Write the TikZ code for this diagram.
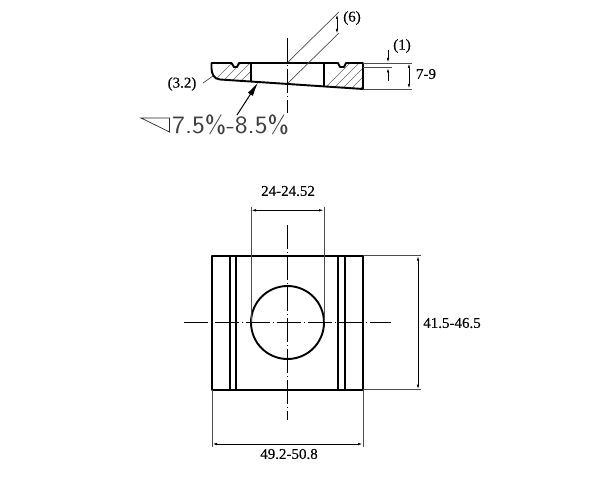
\documentclass[tikz,border=0pt]{standalone}
\usepackage{fontspec}
\setmainfont[FakeBold=0.15]{Liberation Serif}
\usetikzlibrary{arrows.meta}
\tikzset{
  x=1pt,y=-1pt,
  outline/.style={line width=1.9pt,black,line join=round},
  thin line/.style={line width=0.7pt,black!70},
  centerline/.style={line width=0.8pt,black,dash pattern=on 24pt off 3pt on 1pt off 3pt},
  hatch/.style={line width=0.5pt,black!60},
  dimline/.style={line width=0.9pt,black,{Latex[length=5pt,width=2.5pt]}-{Latex[length=5pt,width=2.5pt]}},
  dimtext/.style={font=\fontsize{15}{15}\selectfont,inner sep=0pt},
}
\begin{document}
\begin{tikzpicture}
\useasboundingbox (0,0) rectangle (604,481);
\fill[white] (0,0) rectangle (604,481);

% --- section view: hatching
\begin{scope}
  \clip (211,63) -- (231.5,63) -- (234,67) -- (237,67) -- (239,63) -- (251,63) -- (251,81) -- (218,79) to[out=200,in=90] (211,68) -- cycle;
  \foreach \k in {0,...,8} \draw[hatch] (205+9*\k,90) -- (205+9*\k+35,55);
\end{scope}
\begin{scope}
  \clip (324,63) -- (338,63) -- (340,67) -- (344,67) -- (346,63) -- (363,63) -- (363,89) -- (324,87) -- cycle;
  \foreach \k in {0,...,9} \draw[hatch] (318+9*\k,95) -- (318+9*\k+40,55);
\end{scope}
% --- section view: outline
\draw[outline] (251,63) -- (239,63) -- (237,67) -- (234,67) -- (231.5,63) -- (211.5,63) -- (211.5,68)
  .. controls (211.5,74) and (214,79) .. (220,79.5) -- (258,82) -- (363,89) -- (363,63) -- (346,63) -- (344,67) -- (340,67) -- (338,63) -- (251,63);
\draw[outline] (251,63) -- (251,81);
\draw[outline] (324,63) -- (324,87);
\draw[centerline] (287.5,38) -- (287.5,113);
% (6)
\coordinate (d6a) at (288,62);
\coordinate (d6b) at (339,12);
\coordinate (d6c) at (288,83);
\coordinate (d6d) at (339,33);
\draw[thin line] (d6a) -- (d6b);
\draw[thin line] (d6c) -- (d6d);
\draw[dimline] (337,14) -- (337,34);
\node[dimtext] (l6) at (352,18) {(6)};
% (1) and 7-9
\coordinate (e1) at (363,63);
\coordinate (e2) at (412,63);
\coordinate (e3) at (363,67.5);
\coordinate (e4) at (392,67.5);
\coordinate (e5) at (363,89);
\coordinate (e6) at (412,89);
\draw[thin line] (e1) -- (e2);
\draw[thin line] (e3) -- (e4);
\draw[thin line] (e5) -- (e6);
\draw[line width=0.9pt,-{Latex[length=5pt,width=2.5pt]}] (388,50) -- (388,63);
\draw[line width=0.9pt,-{Latex[length=5pt,width=2.5pt]}] (388,81) -- (388,67.5);
\node[dimtext] (l1) at (402,46) {(1)};
\draw[dimline] (409,63) -- (409,89);
\node[dimtext] (l79) at (426,74) {7-9};
% (3.2)
\node[dimtext] (l32) at (182,84) {(3.2)};
\coordinate (r1) at (203,83);
\coordinate (r2) at (213,76);
\draw[thin line] (r1) -- (r2);
% taper
\coordinate (t1) at (237,115);
\coordinate (t2) at (258,82.5);
\draw[line width=1pt,-{Latex[length=14pt,width=6pt]}] (t1) -- (t2);
\draw[line width=0.7pt,black!85] (141,118) -- (169.5,118) -- (169.5,132) -- cycle;
\node[font=\sffamily\fontsize{25}{25}\selectfont,text=black!75,inner sep=0pt,anchor=west,xscale=1.09] (taper) at (172,125) {7.5\%-8.5\%};

% --- plan view
\draw[outline] (212,255.7) rectangle (363,389.7);
\draw[outline] (230,255.7) -- (230,389.7);
\draw[outline] (236.3,255.7) -- (236.3,389.7);
\draw[outline] (338.3,255.7) -- (338.3,389.7);
\draw[outline] (345,255.7) -- (345,389.7);
\node[circle,draw,line width=1.9pt,minimum size=73pt,inner sep=0pt] (hole) at (287.5,322.5) {};
\draw[centerline] (184,322.5) -- (391,322.5);
\draw[centerline] (287.5,225) -- (287.5,420);
% 24-24.52
\coordinate (a1) at (251,207);
\coordinate (a2) at (251,322);
\coordinate (a3) at (324,207);
\coordinate (a4) at (324,322);
\draw[thin line] (a1) -- (a2);
\draw[thin line] (a3) -- (a4);
\draw[dimline] (251,210.3) -- (324,210.3);
\node[dimtext] (w) at (288,191) {24-24.52};
% 41.5-46.5
\coordinate (b1) at (363,255.7);
\coordinate (b2) at (421,255.7);
\coordinate (b3) at (363,389.7);
\coordinate (b4) at (421,389.7);
\draw[thin line] (b1) -- (b2);
\draw[thin line] (b3) -- (b4);
\draw[dimline] (418,255.7) -- (418,389.7);
\node[dimtext] (h) at (452,323) {41.5-46.5};
% 49.2-50.8
\coordinate (c1) at (212,389.7);
\coordinate (c2) at (212,447);
\coordinate (c3) at (363,389.7);
\coordinate (c4) at (363,447);
\draw[thin line] (c1) -- (c2);
\draw[thin line] (c3) -- (c4);
\draw[dimline] (212,444) -- (363,444);
\node[dimtext] (b) at (289,454) {49.2-50.8};
\end{tikzpicture}
\end{document}
